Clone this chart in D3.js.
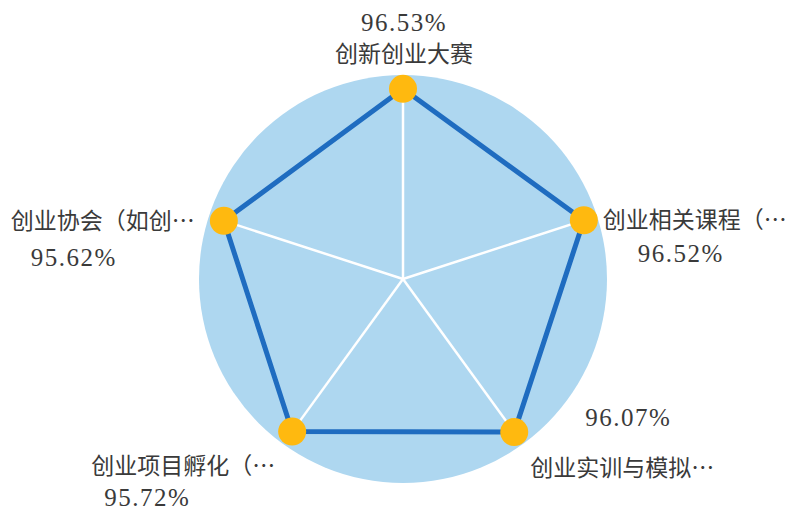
<!DOCTYPE html>
<html>
<head>
<meta charset="utf-8">
<script src="https://cdn.jsdelivr.net/npm/d3@7"></script>
<style>
  body { margin: 0; background: #fff; }
  svg text { fill: #3a3a3a; }
</style>
</head>
<body>
<svg id="chart" width="799" height="518"></svg>
<script>
// radar data
const names = ["创新创业大赛", "创业相关课程（…", "创业实训与模拟…", "创业项目孵化（…", "创业协会（如创…"];
const values = [96.53, 96.52, 96.07, 95.72, 95.62];
const valueLabels = ["96.53%", "96.52%", "96.07%", "95.72%", "95.62%"];

// label placement relative to each point: [anchor, dx, dy] for name and value
const nameOffsets = [["middle", 1, -27], ["start", 19, 8], ["start", 16, 44], ["end", -17, 42], ["end", -29, 8]];
const valOffsets = [["middle", 1, -58], ["middle", 97, 42], ["start", 71, -6], ["middle", -145, 74], ["middle", -150, 45]];

const cx = 403, cy = 279, outerR = 204;
const serif = "'Liberation Serif', 'Times New Roman', Times, serif";
const cjk = "'Noto Sans CJK SC', sans-serif";

const svg = d3.select("#chart");
const g = svg.append("g").attr("transform", `translate(${cx},${cy})`);

const r = d3.scaleLinear().domain([0, 100]).range([0, 197]);
const angle = d3.scaleLinear().domain([0, names.length]).range([-Math.PI / 2, Math.PI * 1.5]);

const pt = (i, v) => [Math.cos(angle(i)) * r(v), Math.sin(angle(i)) * r(v)];

g.append("circle")
  .attr("r", outerR)
  .attr("fill", "#aed7f0");

// spokes
g.selectAll("line.spoke")
  .data(names)
  .join("line")
  .attr("class", "spoke")
  .attr("x1", 0).attr("y1", 0)
  .attr("x2", (d, i) => pt(i, 100)[0])
  .attr("y2", (d, i) => pt(i, 100)[1])
  .attr("stroke", "#fff")
  .attr("stroke-width", 2.5);

const line = d3.lineRadial()
  .angle((d, i) => angle(i) + Math.PI / 2)
  .radius(d => r(d))
  .curve(d3.curveLinearClosed);

g.append("path")
  .attr("d", line(values))
  .attr("fill", "none")
  .attr("stroke", "#1f6cc0")
  .attr("stroke-width", 5)
  .attr("stroke-linejoin", "round");

g.selectAll("circle.dot")
  .data(values)
  .join("circle")
  .attr("class", "dot")
  .attr("cx", (d, i) => pt(i, d)[0])
  .attr("cy", (d, i) => pt(i, d)[1])
  .attr("r", 14)
  .attr("fill", "#ffb90f");

g.selectAll("text.name")
  .data(names)
  .join("text")
  .attr("class", "name")
  .style("font-family", cjk)
  .style("font-size", "23px")
  .attr("text-anchor", (d, i) => nameOffsets[i][0])
  .attr("x", (d, i) => pt(i, values[i])[0] + nameOffsets[i][1])
  .attr("y", (d, i) => pt(i, values[i])[1] + nameOffsets[i][2])
  .text(d => d);

g.selectAll("text.val")
  .data(valueLabels)
  .join("text")
  .attr("class", "val")
  .style("font-family", serif)
  .style("font-size", "25px")
  .style("letter-spacing", "1.5px")
  .attr("text-anchor", (d, i) => valOffsets[i][0])
  .attr("x", (d, i) => pt(i, values[i])[0] + valOffsets[i][1])
  .attr("y", (d, i) => pt(i, values[i])[1] + valOffsets[i][2])
  .text(d => d);
</script>
</body>
</html>
